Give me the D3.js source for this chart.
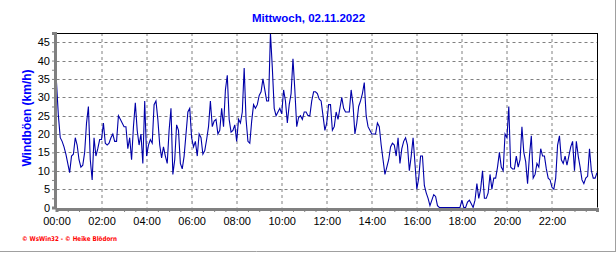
<!DOCTYPE html>
<html>
<head>
<meta charset="utf-8">
<script src="https://cdn.jsdelivr.net/npm/d3@7"></script>
<style>
  body { margin: 0; background: #fff; }
  svg { display: block; }
</style>
</head>
<body>
<div id="chart"></div>
<script>
// Windböen, 5-Minuten-Werte ab 00:00 (km/h)
const gusts = [
  34, 25, 19, 18, 16.5, 14.5, 12, 9.5, 14, 14.5, 19, 17, 13, 11, 11.5, 15, 23, 27.5, 13, 7.5, 19, 14, 16, 18.5,
  18.5, 23, 17.5, 17, 17.5, 19, 20, 18, 18, 25, 24, 23, 22, 22, 16, 19, 13, 22, 28.5, 21, 17, 20, 12, 29,
  14, 17, 18.5, 17.5, 28, 29, 24, 17, 13.5, 16.5, 14, 12, 21, 27, 9, 13, 22.5, 21, 12, 10.5, 14, 20, 26, 27,
  19, 16.5, 18, 14, 20, 19, 14.5, 15.5, 18.5, 22, 29, 22, 23.5, 24, 20, 21, 27, 22, 32, 36, 24, 20.5, 21, 22.5,
  18, 24, 23, 26, 38, 24, 18, 17.5, 23.5, 28, 27, 28, 30.5, 31.5, 35, 32, 29, 29, 47.5, 38, 27, 25, 26, 27,
  25.5, 32, 29, 23, 28, 31, 40.5, 32, 22, 24.5, 25, 24, 26, 26, 25, 25, 29, 31.5, 31.5, 31, 29.5, 29, 25, 21,
  23, 28, 28, 21, 22, 26, 24, 27, 30, 27, 26, 26, 26, 32, 28, 20, 23, 27.5, 29, 31, 34, 25, 22, 21,
  20, 20, 20, 23, 22, 17, 13, 9, 11, 13, 16.5, 17.5, 17, 14, 19, 12, 16, 18, 19, 17, 10, 14, 19, 12,
  5, 8, 14, 14, 6, 4, 2.5, 0.5, 2, 3.5, 3, 0.5, 0, 0, 0, 0, 0, 0, 0, 0, 0, 0, 0, 0,
  2, 0, 0, 1.5, 2, 1, 0, 2, 6.5, 2.5, 5, 10, 2.5, 2.5, 4, 9, 5, 8, 8, 11, 15, 11, 10, 20,
  19, 27.5, 11, 10.5, 10.5, 14, 11, 13, 22, 15, 12.5, 6.5, 14, 19.5, 8, 9, 12, 11, 16, 14, 14, 10.5, 8, 7.5,
  5.5, 5, 8, 17, 19.5, 13, 12, 14, 11.5, 14, 16.5, 18, 10, 18, 14, 11, 7.5, 6.5, 8, 8.5, 16, 10, 8, 8, 9.5
];
const stepMin = 5;
const yTicks = [0, 5, 10, 15, 20, 25, 30, 35, 40, 45];
const xTickHours = [0, 2, 4, 6, 8, 10, 12, 14, 16, 18, 20, 22];
const title = 'Mittwoch, 02.11.2022';
const yLabel = 'Windböen (km/h)';
const footer = '© WsWin32  -  © Heike Blödorn';

const W = 616, H = 253;
const m = { top: 33, right: 19, bottom: 45.5, left: 56.5 };
const w = W - m.left - m.right, h = H - m.top - m.bottom;
const blue = '#0000ff', line = '#0000a8', gridCol = '#808080';

const svg = d3.select('#chart').append('svg').attr('width', W).attr('height', H);

// Rahmen des Bildes
svg.append('line').attr('x1', W - 0.5).attr('x2', W - 0.5).attr('y1', 0).attr('y2', H - 1)
  .attr('stroke', '#a0a0a0');
svg.append('line').attr('x1', 0).attr('x2', W).attr('y1', H - 1.5).attr('y2', H - 1.5)
  .attr('stroke', '#a0a0a0');

const g = svg.append('g').attr('transform', `translate(${m.left},${m.top})`);

const x = d3.scaleLinear().domain([0, 24 * 60]).range([0, w]);
const y = d3.scaleLinear().domain([0, 47.5]).range([h, 0]);

// Gitter
g.append('g').selectAll('line').data(yTicks.slice(1)).join('line')
  .attr('x1', 0).attr('x2', w)
  .attr('y1', d => Math.round(y(d)) + 0.5).attr('y2', d => Math.round(y(d)) + 0.5)
  .attr('stroke', gridCol).attr('stroke-dasharray', '3,3');
g.append('g').selectAll('line').data(xTickHours.slice(1)).join('line')
  .attr('x1', d => Math.round(x(d * 60)) + 0.5).attr('x2', d => Math.round(x(d * 60)) + 0.5)
  .attr('y1', 0).attr('y2', h)
  .attr('stroke', gridCol).attr('stroke-dasharray', '3,3');

// Messkurve
const pts = gusts.map((v, i) => [i * stepMin, v]);
g.append('path').datum(pts)
  .attr('d', d3.line().x(d => x(d[0])).y(d => y(d[1])))
  .attr('fill', 'none').attr('stroke', line).attr('stroke-width', 1.1);

// Rahmen oben/rechts
g.append('line').attr('x1', 0).attr('x2', w + 0.5).attr('y1', 0.5).attr('y2', 0.5).attr('stroke', '#000');
g.append('line').attr('x1', w + 0.5).attr('x2', w + 0.5).attr('y1', 0).attr('y2', h).attr('stroke', '#000');

// Y-Achse
const yAxis = g.append('g').attr('transform', 'translate(-1.5,0)')
  .call(d3.axisLeft(y).tickValues(d3.range(0, 47.5, 2.5)).tickSize(3).tickFormat(d => yTicks.includes(d) ? d : ''));
yAxis.select('.domain').attr('stroke', gridCol).attr('stroke-width', 3);
yAxis.selectAll('.tick line').attr('stroke', gridCol);
yAxis.selectAll('.tick text').attr('font-family', 'Liberation Sans, Arial').attr('font-size', 11)
  .attr('fill', '#000').attr('x', -5);

// X-Achse
const xAxis = g.append('g').attr('transform', `translate(0,${h + 1.5})`)
  .call(d3.axisBottom(x).tickValues(d3.range(0, 24 * 60, 30)).tickSize(3)
    .tickFormat(d => d % 120 === 0 ? String(d / 60).padStart(2, '0') + ':00' : ''));
xAxis.select('.domain').attr('stroke', gridCol).attr('stroke-width', 3);
xAxis.selectAll('.tick line').attr('stroke', gridCol);
xAxis.selectAll('.tick text').attr('font-family', 'Liberation Sans, Arial').attr('font-size', 11)
  .attr('fill', '#000').attr('y', 8);

// Titel und Beschriftungen
svg.append('text').attr('x', 308.5).attr('y', 22).attr('text-anchor', 'middle')
  .attr('fill', blue).attr('font-family', 'Liberation Sans, Arial').attr('font-weight', 'bold')
  .attr('font-size', 11.5).text(title);
svg.append('text').attr('transform', 'translate(31,118) rotate(-90)').attr('text-anchor', 'middle')
  .attr('fill', blue).attr('font-family', 'Liberation Sans, Arial').attr('font-weight', 'bold')
  .attr('font-size', 12).text(yLabel);
svg.append('text').attr('x', 22).attr('y', 241)
  .attr('fill', '#ff0000').attr('font-family', 'DejaVu Sans').attr('font-size', 6.5)
  .attr('font-weight', 'bold')
  .attr('textLength', 95).attr('lengthAdjust', 'spacingAndGlyphs').text(footer);
</script>
</body>
</html>
